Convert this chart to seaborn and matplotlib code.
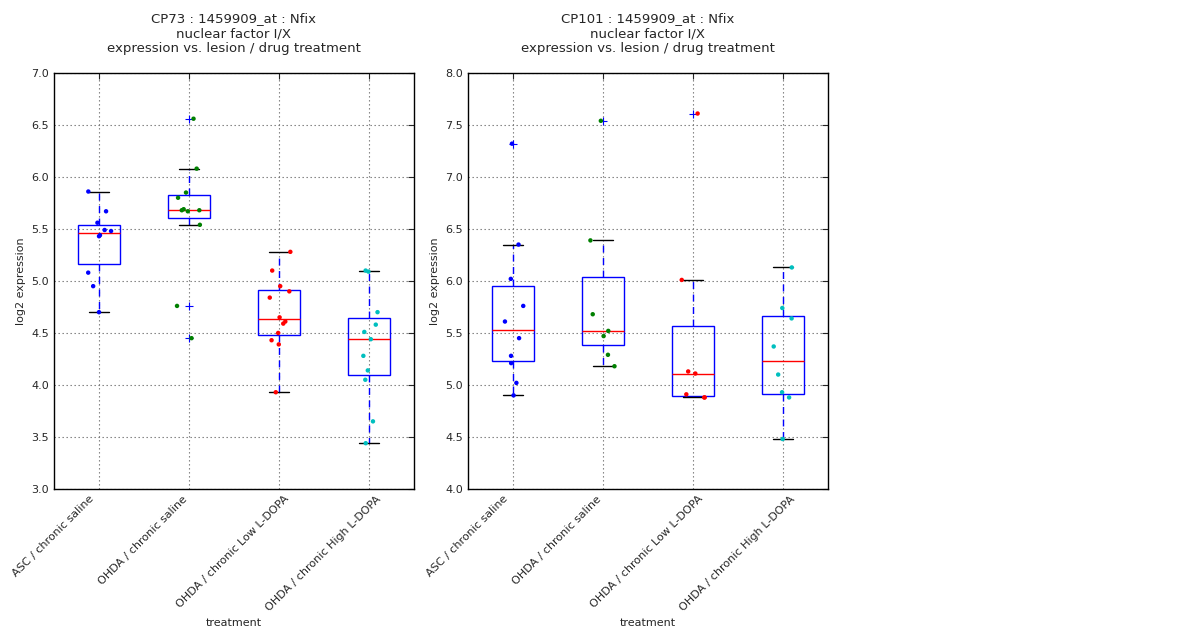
"""Boxplots of Nfix expression per treatment, two probesets side by side"""
import numpy as np
import pandas as pd
import matplotlib
matplotlib.use('Agg')
import matplotlib.pyplot as plt
import matplotlib.transforms as mtransforms
import seaborn as sns

treatments = ['ASC / chronic saline', 'OHDA / chronic saline',
              'OHDA / chronic Low L-DOPA', 'OHDA / chronic High L-DOPA']
point_colors = ['b', 'g', 'r', 'c']

#CP73 values
cp73_asc = [5.86, 5.67, 5.56, 5.49, 5.48, 5.44, 5.43, 5.08, 4.95, 4.70]
cp73_saline = [6.56, 6.08, 5.85, 5.80, 5.69, 5.68, 5.68, 5.67, 5.54, 4.76, 4.45]
cp73_low = [5.28, 5.10, 4.95, 4.90, 4.84, 4.65, 4.61, 4.59, 4.50, 4.43, 4.39, 3.93]
cp73_high = [5.09, 5.10, 4.70, 4.58, 4.51, 4.44, 4.28, 4.14, 4.05, 3.65, 3.44]

#CP101 values
cp101_asc = [7.32, 6.35, 6.02, 5.76, 5.61, 5.45, 5.28, 5.21, 5.02, 4.90]
cp101_saline = [7.54, 6.39, 5.68, 5.52, 5.47, 5.29, 5.18]
cp101_low = [7.61, 6.01, 5.13, 5.11, 4.91, 4.88, 4.88]
cp101_high = [6.13, 5.74, 5.64, 5.37, 5.10, 4.93, 4.88, 4.48]

panels = [
    ('CP73', [cp73_asc, cp73_saline, cp73_low, cp73_high], (3.0, 7.0)),
    ('CP101', [cp101_asc, cp101_saline, cp101_low, cp101_high], (4.0, 8.0)),
]

sns.set_style('white')
plt.rcParams.update({'font.family': ['DejaVu Sans'],
                     'font.size': 8,
                     'xtick.direction': 'in',
                     'ytick.direction': 'in',
                     'xtick.top': True,
                     'ytick.right': True,
                     'xtick.major.size': 4,
                     'ytick.major.size': 4,
                     'axes.edgecolor': 'black',
                     'axes.linewidth': 1.0})

fig = plt.figure(figsize=(12, 6.4), dpi=100)
ax_left = fig.add_axes([0.045, 0.236, 0.30, 0.65])
ax_right = fig.add_axes([0.39, 0.236, 0.30, 0.65])

np.random.seed(7)

#rotated labels sit left of their ticks in the original
label_shift = mtransforms.ScaledTranslation(-0.46, 0, fig.dpi_scale_trans)

for ax, (chip, groups, ylim) in zip([ax_left, ax_right], panels):
    df = pd.DataFrame({
        'treatment': np.repeat(treatments, [len(g) for g in groups]),
        'expression': np.concatenate(groups),
    })

    sns.boxplot(data=df, x='treatment', y='expression', order=treatments,
                width=0.46, whis=1.5, ax=ax,
                boxprops={'facecolor': 'none', 'edgecolor': 'blue', 'linewidth': 1},
                medianprops={'color': 'red', 'linewidth': 1},
                whiskerprops={'color': 'blue', 'linestyle': (0, (5, 4)),
                              'linewidth': 1},
                capprops={'color': 'black', 'linewidth': 1},
                flierprops={'marker': '+', 'markeredgecolor': 'blue',
                            'markersize': 6, 'markeredgewidth': 0.8})
    sns.stripplot(data=df, x='treatment', y='expression', order=treatments,
                  hue='treatment', hue_order=treatments, palette=point_colors,
                  jitter=0.14, size=3.2, linewidth=0, legend=False, ax=ax)

    ax.set_xlim(-0.5, 3.5)
    ax.set_ylim(*ylim)
    ax.set_yticks(np.arange(ylim[0], ylim[1] + 0.01, 0.5))
    ax.yaxis.set_major_formatter(plt.FormatStrFormatter('%.1f'))
    ax.grid(True, color='0.45', linestyle=(0, (1.2, 2.4)), linewidth=0.8)
    ax.set_axisbelow(True)
    for spine in ax.spines.values():
        spine.set_visible(True)
        spine.set_color('black')

    ax.set_xticks(range(len(treatments)))
    ax.set_xticklabels(treatments, rotation=45, ha='center', va='top')
    for label in ax.get_xticklabels():
        label.set_transform(label.get_transform() + label_shift)
    ax.set_xlabel('treatment')
    ax.set_ylabel('log2 expression')
    ax.set_title(f'{chip} : 1459909_at : Nfix\nnuclear factor I/X\n'
                 'expression vs. lesion / drug treatment',
                 fontsize=9.5, pad=15)

fig.savefig('out.png', dpi=100, facecolor='white')
